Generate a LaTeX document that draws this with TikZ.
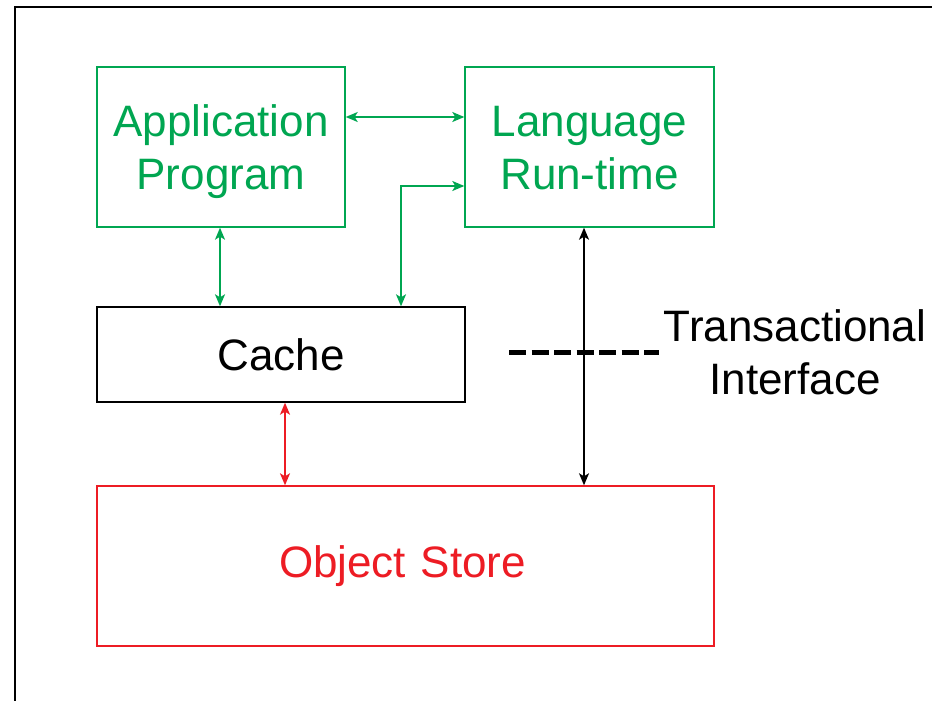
\documentclass[tikz,border=0pt]{standalone}
\usepackage{fontspec}
\setmainfont{Liberation Sans}
\usetikzlibrary{arrows.meta}
\definecolor{dgreen}{RGB}{0,166,81}
\definecolor{dred}{RGB}{237,28,36}
\begin{document}
\begin{tikzpicture}[x=1pt,y=-1pt,
  box/.style={draw,line width=1.4pt,inner sep=0pt,font=\fontsize{44}{53}\selectfont,align=center},
  boxtext/.style={inner sep=0pt,font=\fontsize{44}{53}\selectfont,align=center},
  link/.style={line width=1.4pt,{Stealth[length=12pt,width=10pt,inset=3pt]}-{Stealth[length=12pt,width=10pt,inset=3pt]}}]
\useasboundingbox (0,0) rectangle (932,701);
\fill[white] (0,0) rectangle (932,701);
\draw[line width=2pt] (14.5,701) -- (14.5,7.5) -- (932,7.5);
% boxes
\node[box,dgreen,minimum width=248pt,minimum height=160pt] (app) at (221,147) {};
\node[boxtext,text=dgreen,yshift=-5pt] (apptext) at (app.center) {\strut Application\\\strut Program};
\node[box,dgreen,minimum width=249pt,minimum height=160pt] (lang) at (589.5,147) {};
\node[boxtext,text=dgreen,yshift=-5pt] (langtext) at (lang.center) {\strut Language\\\strut Run-time};
\node[box,black,minimum width=368pt,minimum height=95pt] (cache) at (281,354.5) {Cache};
\node[box,dred,text=dred,minimum width=617pt,minimum height=160pt,text width=617pt] (obj) at (405.5,566) {\hspace*{-6pt}Object Store};
% connectors
\draw[link,dgreen] (app.east |- 0,117) -- (lang.west |- 0,117);
\draw[link,dgreen] (cache.north -| 401,0) -- (401,186) -- (lang.west |- 0,186);
\draw[link,dgreen] (app.south -| 220,0) -- (cache.north -| 220,0);
\draw[link,dred] (cache.south -| 285,0) -- (obj.north -| 285,0);
\draw[link,black] (lang.south -| 584,0) -- (obj.north -| 584,0);
% transactional interface
\coordinate (dl) at (509,352);
\coordinate (dr) at (659,352);
\draw[line width=5pt,dash pattern=on 17pt off 5.5pt] (dl) -- (dr);
\node[font=\fontsize{44}{53}\selectfont,align=center,anchor=center] (ti) at (795,352) {Transactional\\Interface};
\end{tikzpicture}
\end{document}
